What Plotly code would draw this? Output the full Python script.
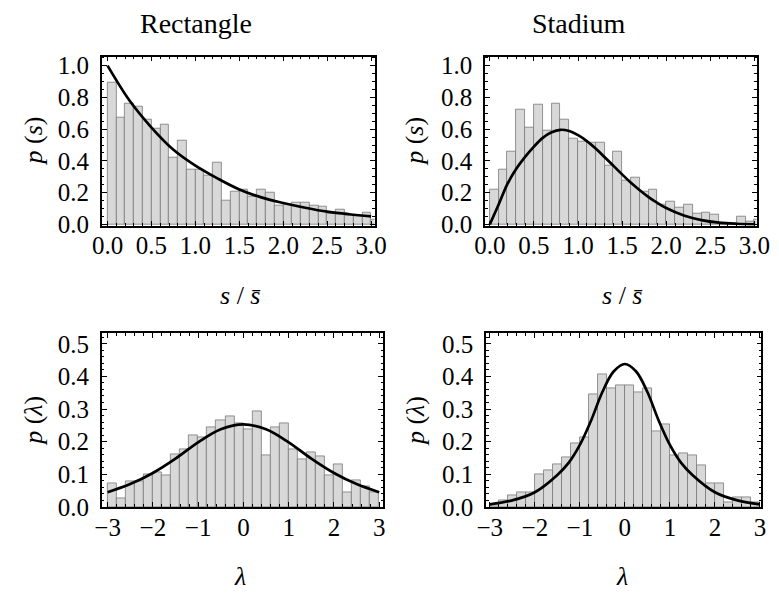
import plotly.graph_objects as go

# ---------------- data ----------------
# spacing histograms: bin left edges (width 0.1)
s_bin_left = [0.0, 0.1, 0.2, 0.3, 0.4, 0.5, 0.6, 0.7, 0.8, 0.9,
              1.0, 1.1, 1.2, 1.3, 1.4, 1.5, 1.6, 1.7, 1.8, 1.9,
              2.0, 2.1, 2.2, 2.3, 2.4, 2.5, 2.6, 2.7, 2.8, 2.9, 3.0]
s_bin_width = 0.1
rect_ps = [0.894, 0.670, 0.762, 0.741, 0.660, 0.601, 0.629, 0.420, 0.530, 0.348,
           0.348, 0.308, 0.389, 0.147, 0.206, 0.216, 0.175, 0.216, 0.200, 0.118,
           0.124, 0.138, 0.138, 0.118, 0.114, 0.067, 0.094, 0.053, 0.053, 0.077, 0.030]
stad_ps = [0.216, 0.348, 0.460, 0.721, 0.609, 0.752, 0.593, 0.762, 0.660, 0.542,
           0.521, 0.517, 0.517, 0.369, 0.460, 0.277, 0.297, 0.206, 0.216, 0.124,
           0.145, 0.108, 0.124, 0.067, 0.077, 0.063, 0.0, 0.0, 0.047, 0.016, 0.030]

# lambda histograms: bin left edges (width 0.2)
l_bin_left = [-3.0, -2.8, -2.6, -2.4, -2.2, -2.0, -1.8, -1.6, -1.4, -1.2,
              -1.0, -0.8, -0.6, -0.4, -0.2, 0.0, 0.2, 0.4, 0.6, 0.8,
              1.0, 1.2, 1.4, 1.6, 1.8, 2.0, 2.2, 2.4, 2.6, 2.8]
l_bin_width = 0.2
rect_pl = [0.071, 0.025, 0.079, 0.079, 0.101, 0.106, 0.097, 0.161, 0.178, 0.218,
           0.213, 0.243, 0.264, 0.279, 0.257, 0.238, 0.294, 0.157, 0.243, 0.257,
           0.177, 0.147, 0.166, 0.156, 0.096, 0.131, 0.045, 0.081, 0.064, 0.045]
stad_pl = [0.005, 0.020, 0.035, 0.045, 0.045, 0.101, 0.111, 0.132, 0.151, 0.196,
           0.213, 0.345, 0.406, 0.365, 0.374, 0.374, 0.350, 0.364, 0.233, 0.252,
           0.158, 0.165, 0.158, 0.127, 0.071, 0.071, 0.015, 0.028, 0.030, 0.015]

# theory curves
poisson_s = [0, 0.25, 0.5, 0.75, 1.0, 1.25, 1.5, 1.75, 2.0, 2.25, 2.5, 2.75, 3.0]
poisson_p = [1.0, 0.78, 0.61, 0.47, 0.37, 0.29, 0.22, 0.17, 0.135, 0.105, 0.08, 0.064, 0.05]

wigner_s = [0, 0.1, 0.2, 0.3, 0.4, 0.5, 0.6, 0.7, 0.8, 0.9, 1.0, 1.1, 1.2, 1.3,
            1.4, 1.5, 1.6, 1.7, 1.8, 1.9, 2.0, 2.2, 2.4, 2.6, 2.8, 3.0]
wigner_p = [0, 0.125, 0.255, 0.35, 0.425, 0.49, 0.545, 0.58, 0.596, 0.588, 0.562,
            0.525, 0.478, 0.425, 0.37, 0.315, 0.262, 0.215, 0.172, 0.135, 0.103,
            0.056, 0.027, 0.011, 0.004, 0.001]

gauss_l = [-3, -2.5, -2, -1.5, -1, -0.5, 0, 0.5, 1, 1.5, 2, 2.5, 3]
gauss_p = [0.045, 0.07, 0.104, 0.148, 0.198, 0.238, 0.253, 0.238, 0.198, 0.148, 0.104, 0.07, 0.045]

peak_l = [-3, -2.5, -2, -1.5, -1.25, -1, -0.75, -0.5, -0.25, 0,
          0.25, 0.5, 0.75, 1, 1.25, 1.5, 2, 2.5, 3]
peak_p = [0.008, 0.02, 0.045, 0.098, 0.135, 0.19, 0.265, 0.352, 0.415, 0.438,
          0.415, 0.352, 0.265, 0.19, 0.135, 0.098, 0.045, 0.02, 0.008]

titles = ["Rectangle", "Stadium"]

# ---------------- figure ----------------
# The page body has an 8px default margin; the figure is sized so it fits the
# 779x605 window and positions below are given in window pixels.
PAGE_OFF = 8
W, H = 779 - PAGE_OFF, 605 - PAGE_OFF
FONT = "Liberation Serif"
BAR_FILL = "rgb(216,216,216)"
BAR_EDGE = "rgb(120,120,120)"

fig = go.Figure()

def add_hist(left, width, vals, xa, ya):
    fig.add_trace(go.Bar(
        x=[l + width / 2 for l in left], y=vals, width=width,
        marker=dict(color=BAR_FILL, line=dict(color=BAR_EDGE, width=0.8)),
        xaxis=xa, yaxis=ya, showlegend=False, hoverinfo="skip"))

def add_curve(xs, ys, xa, ya):
    fig.add_trace(go.Scatter(
        x=xs, y=ys, mode="lines", line=dict(color="black", width=2.7, shape="spline"),
        xaxis=xa, yaxis=ya, showlegend=False, hoverinfo="skip", cliponaxis=True))

add_hist(s_bin_left, s_bin_width, rect_ps, "x", "y")
add_curve(poisson_s, poisson_p, "x", "y")
add_hist(s_bin_left, s_bin_width, stad_ps, "x2", "y2")
add_curve(wigner_s, wigner_p, "x2", "y2")
add_hist(l_bin_left, l_bin_width, rect_pl, "x3", "y3")
add_curve(gauss_l, gauss_p, "x3", "y3")
add_hist(l_bin_left, l_bin_width, stad_pl, "x4", "y4")
add_curve(peak_l, peak_p, "x4", "y4")

def fx(px):
    return (px - PAGE_OFF) / W

def fy(py):
    return 1 - (py - PAGE_OFF) / H

def px_x(a, b):
    return [fx(a), fx(b)]

def px_y(top, bottom):
    return [fy(bottom), fy(top)]

tickfont = dict(family=FONT, size=25, color="black")

def xaxis(dom, rng, dtick, minor, fmt, anchor):
    return dict(domain=dom, range=rng, anchor=anchor, dtick=dtick, tick0=0,
                tickformat=fmt, ticks="inside", ticklen=5, tickwidth=1.2,
                tickcolor="black", showline=True, linecolor="black", linewidth=1.6,
                mirror="allticks", showgrid=False, zeroline=False,
                tickfont=tickfont, ticklabelstandoff=-3,
                minor=dict(dtick=minor, tick0=0, ticks="inside", ticklen=2.8,
                           tickwidth=1, tickcolor="black", showgrid=False))

def yaxis(dom, rng, dtick, minor, anchor):
    return dict(domain=dom, range=rng, anchor=anchor, dtick=dtick, tick0=0,
                tickformat=".1f", ticks="inside", ticklen=5, tickwidth=1.2,
                tickcolor="black", showline=True, linecolor="black", linewidth=1.6,
                mirror="allticks", showgrid=False, zeroline=False,
                tickfont=tickfont, ticklabelstandoff=6,
                minor=dict(dtick=minor, tick0=0, ticks="inside", ticklen=2.8,
                           tickwidth=1, tickcolor="black", showgrid=False))

top_y = px_y(54, 228.3)
bot_y = px_y(339.3, 518.3)

fig.update_layout(
    width=W, height=H, margin=dict(l=0, r=0, t=0, b=0),
    paper_bgcolor="white", plot_bgcolor="white", bargap=0, barmode="overlay",
    xaxis=xaxis(px_x(93.3, 374.5), [-0.066, 3.039], 0.5, 0.1, ".1f", "y"),
    yaxis=yaxis(top_y, [-0.008, 1.057], 0.2, 0.05, "x"),
    xaxis2=xaxis(px_x(488.3, 768.3), [-0.055, 3.025], 0.5, 0.1, ".1f", "y2"),
    yaxis2=yaxis(top_y, [-0.008, 1.057], 0.2, 0.05, "x2"),
    xaxis3=xaxis(px_x(93.3, 383.3), [-3.129, 3.086], 1, 0.2, "d", "y3"),
    yaxis3=yaxis(bot_y, [0, 0.532], 0.1, 0.02, "x3"),
    xaxis4=xaxis(px_x(489.3, 773.3), [-3.086, 3.034], 1, 0.2, "d", "y4"),
    yaxis4=yaxis(bot_y, [0, 0.532], 0.1, 0.02, "x4"),
)

def text(x, y, s, size=26, angle=0):
    fig.add_annotation(x=fx(x), y=fy(y), xref="paper", yref="paper",
                       text=s, showarrow=False, textangle=angle,
                       font=dict(family=FONT, size=size, color="black"),
                       xanchor="center", yanchor="middle")

text(190, 20, titles[0], size=28)
text(585, 20, titles[1], size=28)
text(236, 300, "<i>s</i> / <i>s\u0304</i>")
text(630, 300, "<i>s</i> / <i>s\u0304</i>")
text(236, 590, "<i>\u03bb</i>")
text(630, 590, "<i>\u03bb</i>")
text(23, 141, "<i>p</i> (<i>s</i>)", angle=-90)
text(416, 141, "<i>p</i> (<i>s</i>)", angle=-90)
text(23, 430, "<i>p</i> (<i>\u03bb</i>)", angle=-90)
text(416, 430, "<i>p</i> (<i>\u03bb</i>)", angle=-90)

fig.write_html("out.html")
